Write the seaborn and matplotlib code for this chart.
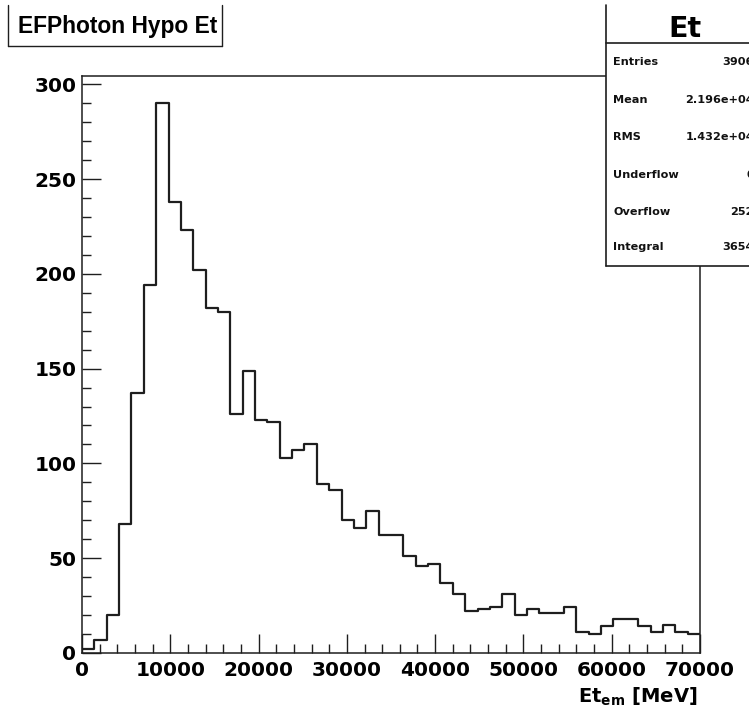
import numpy as np
import pandas as pd
import matplotlib
matplotlib.use("Agg")
import matplotlib.pyplot as plt
import seaborn as sns
from matplotlib.patches import Rectangle
from matplotlib.lines import Line2D
from matplotlib.ticker import MultipleLocator

# ---- data ----
x_min = 0
x_max = 70000
counts = [2, 7, 20, 68, 137, 194, 290, 238, 223, 202,
          182, 180, 126, 149, 123, 122, 103, 107, 110, 89,
          86, 70, 66, 75, 62, 62, 51, 46, 47, 37,
          31, 22, 23, 24, 31, 20, 23, 21, 21, 24,
          11, 10, 14, 18, 18, 14, 11, 15, 11, 10]
title_text = "EFPhoton Hypo Et"
stats_title = "Et"
stats_labels = ["Entries", "Mean", "RMS", "Underflow", "Overflow", "Integral"]
stats_values = ["3906", "2.196e+04", "1.432e+04", "0", "252", "3654"]
x_label = r"Et$_{em}$ [MeV]"

n_bins = len(counts)
bin_w = (x_max - x_min) / n_bins
centers = x_min + bin_w * (np.arange(n_bins) + 0.5)
df = pd.DataFrame({"Et": centers, "n": counts})

sns.set_style("white")
plt.rcParams["font.family"] = ["DejaVu Sans"]
plt.rcParams["font.weight"] = "bold"
plt.rcParams["mathtext.fontset"] = "custom"
plt.rcParams["mathtext.bf"] = "DejaVu Sans:bold"
plt.rcParams["mathtext.rm"] = "DejaVu Sans:bold"
plt.rcParams["mathtext.it"] = "DejaVu Sans:bold"
plt.rcParams["mathtext.default"] = "bf"

W, H = 749, 720
fig = plt.figure(figsize=(W / 100, H / 100), dpi=100)
fig.patch.set_facecolor("white")

def fx(px):
    return px / W

def fy(py):
    return 1 - py / H

L, R, T, B = 82, 700, 75.7, 653
ax = fig.add_axes([fx(L), fy(B), (R - L) / W, (B - T) / H])
ink = "#1e1e1e"

sns.histplot(data=df, x="Et", weights="n", binwidth=bin_w,
             binrange=(x_min, x_max), element="step",
             fill=False, color=ink, linewidth=1.6, ax=ax)
ax.set_xlim(x_min, x_max)
ax.set_ylim(0, 1.05 * max(counts))
ax.set_xlabel("")
ax.set_ylabel("")

ax.xaxis.set_major_locator(MultipleLocator(10000))
ax.xaxis.set_minor_locator(MultipleLocator(2000))
ax.yaxis.set_major_locator(MultipleLocator(50))
ax.yaxis.set_minor_locator(MultipleLocator(10))
ax.tick_params(which="both", direction="in", bottom=True, left=True,
               top=False, right=False,
               width=1.0, color=ink, labelsize=14.5, labelcolor="black")
ax.tick_params(which="major", length=13.5)
ax.tick_params(which="minor", length=6.8)
ax.tick_params(axis="x", which="both", pad=6.0)
ax.tick_params(axis="y", which="both", pad=4.0)
for lab in ax.get_xticklabels() + ax.get_yticklabels():
    lab.set_fontweight("bold")
for s in ax.spines.values():
    s.set_visible(True)
    s.set_linewidth(1.1)
    s.set_color(ink)

# x-axis title
fig.text(fx(698), fy(703), x_label, ha="right", va="baseline",
         fontsize=14, fontweight="bold", color="black")

# ---- title box ----
fig.add_artist(Line2D([fx(8), fx(8)], [fy(5), fy(46)], transform=fig.transFigure,
                      color=ink, lw=1.0))
fig.add_artist(Line2D([fx(222), fx(222)], [fy(5), fy(46)], transform=fig.transFigure,
                      color=ink, lw=1.0))
fig.add_artist(Line2D([fx(8), fx(222)], [fy(46), fy(46)], transform=fig.transFigure,
                      color=ink, lw=1.0))
fig.text(fx(18), fy(33), title_text, ha="left", va="baseline",
         fontsize=16.4, fontweight="bold", family="Liberation Sans", color="black")

# ---- stats box ----
box_l, box_t, box_b, sep = 606, 5, 266, 42.7
fig.add_artist(Rectangle((fx(box_l), fy(box_b)), fx(W + 20) - fx(box_l), fy(box_t) - fy(box_b),
                         transform=fig.transFigure, facecolor="white",
                         edgecolor="none", zorder=5))
for xs, ys in [([box_l, box_l], [box_t, box_b]),
               ([box_l, W + 5], [sep, sep]),
               ([box_l, W + 5], [box_b, box_b])]:
    fig.add_artist(Line2D([fx(v) for v in xs], [fy(v) for v in ys],
                          transform=fig.transFigure, color=ink, lw=1.2, zorder=6))
fig.text(fx(685), fy(37), stats_title, ha="center", va="baseline",
         fontsize=20.5, fontweight="bold", color="black", zorder=7)
row_y = [62, 100, 137.5, 175, 212, 247]
for lab, val, yy in zip(stats_labels, stats_values, row_y):
    fig.text(fx(613), fy(yy), lab, ha="left", va="center", fontsize=8.1,
             fontweight="bold", color="#111111", zorder=7)
    fig.text(fx(754), fy(yy), val, ha="right", va="center", fontsize=8.1,
             fontweight="bold", color="#111111", zorder=7)

fig.savefig("out.png", dpi=100, facecolor="white")
